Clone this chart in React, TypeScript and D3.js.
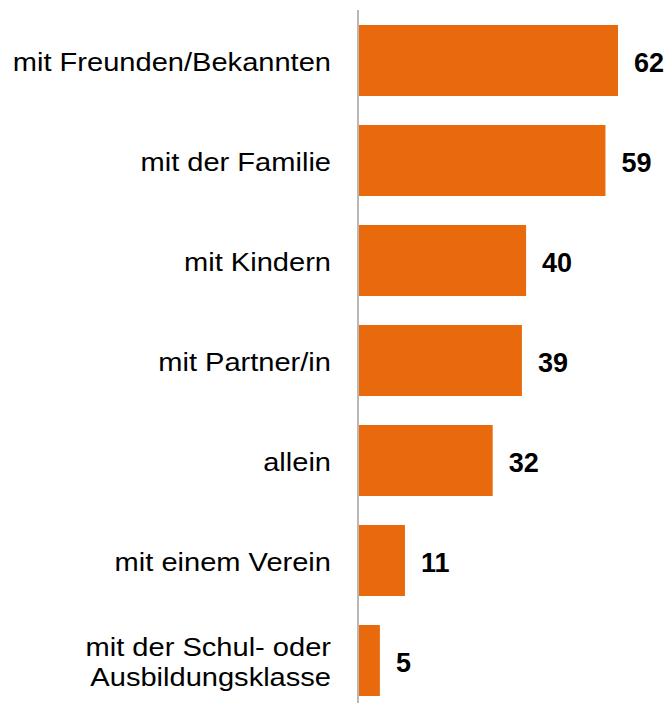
import React from "react";
import * as d3 from "d3";

const categories: string[][] = [
  ["mit Freunden/Bekannten"],
  ["mit der Familie"],
  ["mit Kindern"],
  ["mit Partner/in"],
  ["allein"],
  ["mit einem Verein"],
  ["mit der Schul- oder", "Ausbildungsklasse"],
];
const values: number[] = [62, 59, 40, 39, 32, 11, 5];

const W = 671;
const H = 703;
const SX = 1.14;

export default function App() {
  const keys = categories.map((c) => c.join(" "));
  const x = d3.scaleLinear().domain([0, 62]).range([359, 618]);
  const y = d3
    .scaleBand<string>()
    .domain(keys)
    .range([10.5, 710.5])
    .paddingInner(0.29)
    .paddingOuter(0.145);
  const bw = y.bandwidth();
  return (
    <svg
      width={W}
      height={H}
      style={{ position: "absolute", left: 0, top: 0, display: "block", background: "#fff" }}
      fontFamily="'Liberation Sans', Arial, sans-serif"
    >
      {keys.map((k, i) => {
        const y0 = y(k)!;
        const cy = y0 + bw / 2;
        const lines = categories[i];
        const lineH = 30;
        const firstBase = cy + 10.5 - ((lines.length - 1) * lineH) / 2;
        return (
          <g key={k}>
            <rect x={x(0)} y={y0} width={x(values[i]) - x(0)} height={bw} fill="#E96A0C" />
            {lines.map((ln, j) => (
              <g key={j} transform={`translate(331,${firstBase + j * lineH}) scale(${SX},1)`}>
                <text textAnchor="end" fontSize={25.5} fill="#000">
                  {ln}
                </text>
              </g>
            ))}
            <text
              x={x(values[i]) + 16}
              y={cy + 11}
              fontSize={27}
              fontWeight="bold"
              fill="#000"
            >
              {values[i]}
            </text>
          </g>
        );
      })}
      <line x1={358} x2={358} y1={10} y2={H} stroke="#A0A0A0" strokeWidth={1.5} />
    </svg>
  );
}
